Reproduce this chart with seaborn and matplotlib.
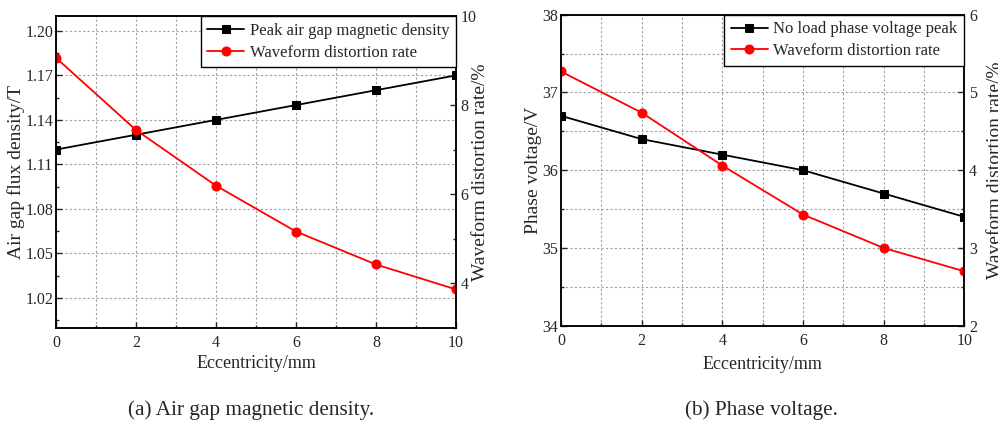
import matplotlib.pyplot as plt
import seaborn as sns
from matplotlib.ticker import MultipleLocator

# data
ecc = [0, 2, 4, 6, 8, 10]
peak_b = [1.12, 1.13, 1.14, 1.15, 1.16, 1.17]
thd_b = [9.06, 7.44, 6.19, 5.16, 4.42, 3.86]
phase_v = [36.7, 36.4, 36.2, 36.0, 35.7, 35.4]
thd_v = [5.27, 4.74, 4.06, 3.43, 3.0, 2.70]

sns.set_style("ticks")
plt.rcParams["font.family"] = ["Liberation Serif", "DejaVu Serif"]
plt.rcParams["xtick.direction"] = "in"
plt.rcParams["ytick.direction"] = "in"
plt.rcParams["axes.linewidth"] = 1.1
plt.rcParams["axes.edgecolor"] = "black"

fig = plt.figure(figsize=(9.98, 4.29), dpi=100)
ax_a = fig.add_axes([0.0561, 0.2361, 0.4008, 0.7266])
ax_b = fig.add_axes([0.5621, 0.2408, 0.4041, 0.7249])

grid_kw = dict(color="#a0a0a0", linestyle=(0, (2, 2)), linewidth=0.8)
black_kw = dict(color="black", marker="s", markersize=6, linewidth=1.3, markeredgecolor="black")
red_kw = dict(color="red", marker="o", markersize=6.5, linewidth=1.3, markeredgecolor="red")


def style_pair(ax, ax2, left_major, left_minor, right_major, right_minor, minor_grid):
    ax.set_xlim(0, 10)
    ax.xaxis.set_major_locator(MultipleLocator(2))
    ax.xaxis.set_minor_locator(MultipleLocator(1))
    ax.yaxis.set_major_locator(MultipleLocator(left_major))
    ax.yaxis.set_minor_locator(MultipleLocator(left_minor))
    ax2.yaxis.set_major_locator(MultipleLocator(right_major))
    ax2.yaxis.set_minor_locator(MultipleLocator(right_minor))
    ax.grid(True, which="both", axis="x", **grid_kw)
    ax.grid(True, which="both" if minor_grid else "major", axis="y", **grid_kw)
    ax.tick_params(axis="x", which="major", length=4, width=1, labelsize=11.5, pad=5)
    ax.tick_params(axis="x", which="minor", length=2.5, width=1)
    ax.tick_params(axis="y", which="major", length=4, width=1, labelsize=11.5, pad=2)
    ax.tick_params(axis="y", which="minor", length=2.5, width=1)
    ax2.tick_params(axis="y", which="major", length=4, width=1, labelsize=11.5, pad=3.5)
    ax2.tick_params(axis="y", which="minor", length=2.5, width=1)
    for a in (ax, ax2):
        for s in a.spines.values():
            s.set_visible(True)
            s.set_color("black")
            s.set_linewidth(1.1)


# (a) air gap magnetic density
ax2_a = ax_a.twinx()
sns.lineplot(x=ecc, y=peak_b, ax=ax_a, label="Peak air gap magnetic density", legend=False, **black_kw)
sns.lineplot(x=ecc, y=thd_b, ax=ax2_a, label="Waveform distortion rate", legend=False, **red_kw)
ax_a.set_ylim(1.0, 1.21)
ax2_a.set_ylim(3, 10)
style_pair(ax_a, ax2_a, 0.03, 0.015, 2, 1, False)
ax_a.set_yticks([1.02, 1.05, 1.08, 1.11, 1.14, 1.17, 1.20])
ax_a.set_yticklabels(["1.02", "1.05", "1.08", "1.11", "1.14", "1.17", "1.20"])
ax_a.set_yticks([1.005, 1.035, 1.065, 1.095, 1.125, 1.155, 1.185], minor=True)
ax2_a.set_yticks([4, 6, 8, 10])
ax_a.set_xlabel("Eccentricity/mm", fontsize=13)
ax_a.set_ylabel("Air gap flux density/T", fontsize=14)
ax2_a.set_ylabel("Waveform distortion rate/%", fontsize=14)
ax_a.xaxis.set_label_coords(0.5, -0.088)
ax_a.yaxis.set_label_coords(-0.078, 0.5)
ax2_a.yaxis.set_label_coords(1.041, 0.5)

# (b) phase voltage
ax2_b = ax_b.twinx()
sns.lineplot(x=ecc, y=phase_v, ax=ax_b, label="No load phase voltage peak", legend=False, **black_kw)
sns.lineplot(x=ecc, y=thd_v, ax=ax2_b, label="Waveform distortion rate", legend=False, **red_kw)
ax_b.set_ylim(34, 38)
ax2_b.set_ylim(2, 6)
style_pair(ax_b, ax2_b, 1, 0.5, 1, 0.5, True)
ax_b.set_xlabel("Eccentricity/mm", fontsize=13)
ax_b.set_ylabel("Phase voltage/V", fontsize=14)
ax2_b.set_ylabel("Waveform distortion rate/%", fontsize=14)
ax_b.xaxis.set_label_coords(0.5, -0.097)
ax_b.yaxis.set_label_coords(-0.047, 0.5)
ax2_b.yaxis.set_label_coords(1.056, 0.5)

# legends on the twin axes so they sit above the lines
for ax, ax2 in ((ax_a, ax2_a), (ax_b, ax2_b)):
    h1, l1 = ax.get_legend_handles_labels()
    h2, l2 = ax2.get_legend_handles_labels()
    leg = ax2.legend(h1 + h2, l1 + l2, loc="upper right", borderaxespad=0, fontsize=12,
                     fancybox=False, edgecolor="black", framealpha=1, handlelength=2.2,
                     handletextpad=0.35, labelspacing=0.35, borderpad=0.4)
    leg.get_frame().set_linewidth(1.0)

fig.text(251 / 998, 1 - 410 / 429, "(a) Air gap magnetic density.", ha="center", va="center", fontsize=15.3)
fig.text(761 / 998, 1 - 410 / 429, "(b) Phase voltage.", ha="center", va="center", fontsize=15.3)

fig.savefig("out.png", dpi=100)
